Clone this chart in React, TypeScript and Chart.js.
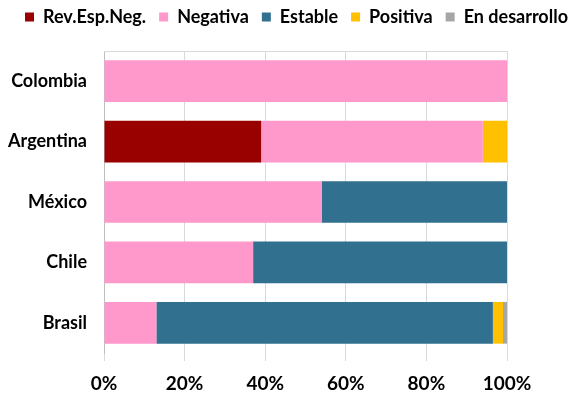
import React, { useEffect, useRef } from "react";
import { Chart, registerables } from "chart.js";

Chart.register(...registerables);

const categories = ["Colombia", "Argentina", "México", "Chile", "Brasil"];
const seriesNames = ["Rev.Esp.Neg.", "Negativa", "Estable", "Positiva", "En desarrollo"];
const revEspNeg = [0, 39, 0, 0, 0];
const negativa = [100, 55, 54, 37, 13];
const estable = [0, 0, 46, 63, 83.5];
const positiva = [0, 6, 0, 0, 2.5];
const enDesarrollo = [0, 0, 0, 0, 1];
const xTicks = [0, 20, 40, 60, 80, 100];

const colors = ["#990000", "#FF99CC", "#31708F", "#FFC000", "#A6A6A6"];
const FONT = "Lato, 'Open Sans', sans-serif";

const topLine = {
  id: "topLine",
  beforeDatasetsDraw(chart: any) {
    const { ctx, chartArea } = chart;
    ctx.save();
    ctx.strokeStyle = "#D9D9D9";
    ctx.lineWidth = 1;
    ctx.beginPath();
    ctx.moveTo(chartArea.left, chartArea.top + 0.5);
    ctx.lineTo(chartArea.right, chartArea.top + 0.5);
    ctx.stroke();
    ctx.restore();
  },
};

const legendSpacer = {
  id: "legendSpacer",
  beforeInit(chart: any) {
    const legend = chart.legend;
    const origFit = legend.fit;
    legend.fit = function () {
      this.maxWidth = 1000;
      origFit.call(this);
      this.height = 56;
    };
    const origDraw = legend.draw;
    legend.draw = function () {
      const r = this.right;
      const lw = this.lineWidths ? this.lineWidths[0] : 0;
      this.right = r + 200;
      if (this.lineWidths) this.lineWidths[0] = lw + 200 - 22;
      origDraw.call(this);
      this.right = r;
      if (this.lineWidths) this.lineWidths[0] = lw;
    };
  },
};

export default function App() {
  const ref = useRef<HTMLCanvasElement>(null);
  useEffect(() => {
    const values = [revEspNeg, negativa, estable, positiva, enDesarrollo];
    const chart = new Chart(ref.current!, {
      type: "bar",
      data: {
        labels: categories,
        datasets: seriesNames.map((name, i) => ({
          label: name,
          data: values[i],
          backgroundColor: colors[i],
          borderWidth: 0,
          barPercentage: 0.69,
          categoryPercentage: 1,
        })),
      },
      plugins: [topLine, legendSpacer],
      options: {
        indexAxis: "y",
        animation: false,
        responsive: false,
        layout: { padding: { left: 0, right: 0, top: -5, bottom: 0 } },
        plugins: {
          tooltip: { enabled: false },
          legend: {
            position: "top",
            labels: {
              boxWidth: 9,
              boxHeight: 9,
              padding: 13,
              color: "#000",
              font: { family: FONT, size: 18, weight: "bold" },
            },
          },
        },
        scales: {
          x: {
            stacked: true,
            min: 0,
            max: 100,
            afterBuildTicks(scale: any) {
              scale.ticks = xTicks.map((v) => ({ value: v }));
            },
            afterFit(scale: any) {
              scale.height = 41;
            },
            ticks: {
              callback: (v: any) => v + "%",
              color: "#000",
              padding: 11,
              font: { family: FONT, size: 19, weight: "bold" },
              maxRotation: 0,
            },
            grid: { color: "#D9D9D9", tickLength: 8, drawTicks: true },
            border: { display: false },
          },
          y: {
            stacked: true,
            afterFit(scale: any) {
              scale.width = 104;
            },
            ticks: {
              color: "#000",
              padding: 17,
              font: { family: FONT, size: 18, weight: "bold" },
            },
            grid: { display: false, drawTicks: false },
            border: { display: true, color: "#BFBFBF" },
          },
          yRight: {
            type: "category",
            position: "right",
            display: true,
            afterFit(scale: any) {
              scale.width = 64;
            },
            ticks: { display: false },
            grid: { display: false, drawTicks: false },
            border: { display: false },
          },
        },
      },
    });
    return () => chart.destroy();
  }, []);
  return (
    <div style={{ position: "fixed", left: 0, top: 0, width: 571, height: 394, background: "#fff" }}>
      <canvas ref={ref} width={571} height={394} />
    </div>
  );
}
